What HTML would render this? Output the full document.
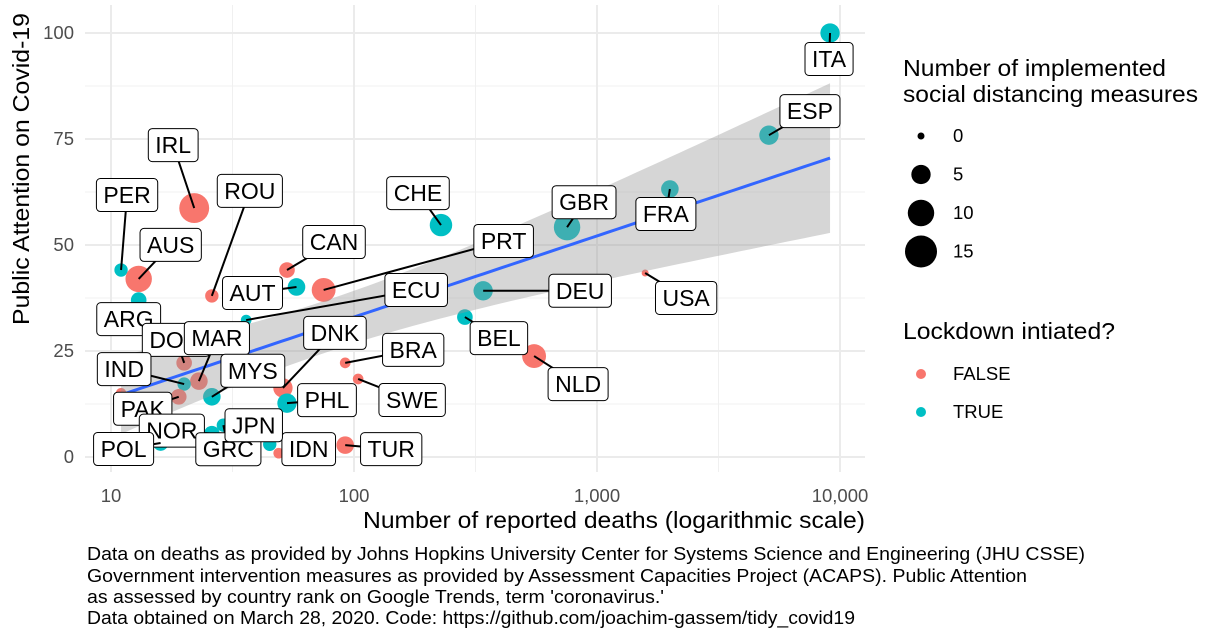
<!DOCTYPE html>
<html><head><meta charset="utf-8"><style>
body{margin:0;background:#fff;}
svg{display:block;font-family:"Liberation Sans",sans-serif;}
</style></head><body>
<svg id="chart" width="1222" height="640" xmlns="http://www.w3.org/2000/svg">
<g id="grid"></g>
<g id="points"></g>
<g id="smooth"></g>
<g id="labels"></g>
<g id="axes"></g>
<text transform="translate(29,169) rotate(-90)" text-anchor="middle" font-size="23" textLength="312" lengthAdjust="spacingAndGlyphs">Public Attention on Covid-19</text>
<text x="614" y="528" text-anchor="middle" font-size="23" textLength="502" lengthAdjust="spacingAndGlyphs">Number of reported deaths (logarithmic scale)</text>
<g font-size="18">
<text x="87" y="560" textLength="998" lengthAdjust="spacingAndGlyphs">Data on deaths as provided by Johns Hopkins University Center for Systems Science and Engineering (JHU CSSE)</text>
<text x="87" y="582" textLength="940" lengthAdjust="spacingAndGlyphs">Government intervention measures as provided by Assessment Capacities Project (ACAPS). Public Attention</text>
<text x="87" y="603" textLength="577" lengthAdjust="spacingAndGlyphs">as assessed by country rank on Google Trends, term 'coronavirus.'</text>
<text x="87" y="624" textLength="768" lengthAdjust="spacingAndGlyphs">Data obtained on March 28, 2020. Code: https://github.com/joachim-gassem/tidy_covid19</text>
</g>
<g id="legend">
<text x="903" y="76" font-size="23" textLength="263" lengthAdjust="spacingAndGlyphs">Number of implemented</text>
<text x="903" y="102" font-size="23" textLength="295" lengthAdjust="spacingAndGlyphs">social distancing measures</text>
<text x="903" y="339" font-size="23" textLength="212" lengthAdjust="spacingAndGlyphs">Lockdown intiated?</text>
</g>
</svg>
<script>
const countries=["ITA","ESP","FRA","GBR","USA","DEU","BEL","NLD","CHE","PRT","CAN","AUT","IRL","ROU","PER","AUS","ARG","ECU","DOM","MAR","IND","MYS","DNK","PHL","BRA","SWE","PAK","NOR","POL","GRC","IDN","JPN","TUR",""];
const deaths=[9100,5100,1995,753,1578,340,286,551,228,75,53,58,22,26,11,13,13,36,20,23,20,26,51,53,92,104,19,26,16,29,49,45,92,11];
const attention=[100,75.9,63.2,54.2,43.4,39.2,33.0,23.8,54.7,39.4,44.1,40.1,58.7,38.0,44.1,42.0,37.0,32.3,22.2,17.9,17.2,14.2,16.3,12.7,22.2,18.4,14.2,5.5,3.3,7.5,0.9,3,2.8,15];
const measures=[5,5,4,10,0,5,3,8,7,8,3,4,13,2,2,10,3,1,3,4,2,4,5,5,1,1,3,3,3,2,1,2,4,1];
const lockdown=[1,1,1,1,0,1,1,0,1,0,0,1,0,0,1,0,1,1,0,0,1,1,0,1,0,0,0,1,1,1,0,1,0,0];
const xTicks=[10,100,1000,10000];
const xTickLabels=["10","100","1,000","10,000"];
const yTicks=[0,25,50,75,100];
const sizeLegend=[0,5,10,15];
const lockLegend=["FALSE","TRUE"];
// label offsets relative to points (layout)
const lblOff=[[-1,26],[41,-24],[-4,25],[17,-25],[41,25],[97,0],[34,21],[44,28],[-23,-32],[180,-49],[47,-28],[-44,6],[-21,-63],[38,-105],[6,-75],[32,-34],[-10,19],[170,-30],[-8,-23],[18,-43],[-60,-15],[41,-26],[52,-55],[40,-3],[68,-13],[54,21],[-36,12],[-40,-3],[-37,6],[5,24],[30,-4],[-16,-19],[46,4],[0,0]];
const X0=111,PX=243,Y0=457,PY=4.24;
const xs=d=>X0+PX*(Math.log10(d)-1);
const ys=v=>Y0-PY*v;
const rad=n=>Math.sqrt(12.25+16.25*n);
const NS="http://www.w3.org/2000/svg";
function mk(t,a,p){const e=document.createElementNS(NS,t);for(const k in a)e.setAttribute(k,a[k]);p.appendChild(e);return e;}
const grid=document.getElementById('grid');
[0.5,1.5,2.5].forEach(l=>{const x=X0+PX*l;const e=mk('line',{x1:x,x2:x,y1:5,y2:472,stroke:'#f0f0f0','stroke-width':1},grid);});
[12.5,37.5,62.5,87.5].forEach(v=>{const e=mk('line',{x1:85,x2:865,y1:ys(v),y2:ys(v),stroke:'#f0f0f0','stroke-width':1},grid);});
const axes=document.getElementById('axes');
xTicks.forEach((t,i)=>{const x=xs(t);const e=mk('line',{x1:x,x2:x,y1:5,y2:472,stroke:'#ebebeb','stroke-width':2},grid);
const tx=mk('text',{x:x,y:502,'text-anchor':'middle','font-size':18.5,fill:'#4d4d4d'},axes);tx.textContent=xTickLabels[i];});
yTicks.forEach(t=>{const y=ys(t);const e=mk('line',{x1:85,x2:865,y1:y,y2:y,stroke:'#ebebeb','stroke-width':2},grid);
const tx=mk('text',{x:74,y:y+6,'text-anchor':'end','font-size':18.5,fill:'#4d4d4d'},axes);tx.textContent=t;});
const col=l=>l?'#00BFC4':'#F8766D';
const pts=document.getElementById('points');
countries.forEach((c,i)=>{const e=mk('circle',{cx:xs(deaths[i]),cy:ys(attention[i]),r:rad(measures[i]),fill:col(lockdown[i])},pts);

});
const L=deaths.map(d=>Math.log10(d));const n=L.length;
const mL=L.reduce((a,b)=>a+b)/n,mA=attention.reduce((a,b)=>a+b)/n;
let sxx=0,sxy=0;L.forEach((l,i)=>{sxx+=(l-mL)**2;sxy+=(l-mL)*(attention[i]-mA);});
const b=sxy/sxx,a=mA-b*mL;let sse=0;L.forEach((l,i)=>{sse+=(attention[i]-a-b*l)**2;});
const s=Math.sqrt(sse/(n-2));
const lo=Math.min(...L),hi=Math.max(...L);
const sm=document.getElementById('smooth');let up=[],dn=[],ln=[];
for(let k=0;k<=80;k++){const l=lo+(hi-lo)*k/80;const f=a+b*l;const se=2.04*s*Math.sqrt(1/n+(l-mL)**2/sxx);const x=xs(10**l);
up.push(x+','+ys(f+se));dn.unshift(x+','+ys(f-se));ln.push(x+','+ys(f));}
const band=mk('polygon',{points:up.concat(dn).join(' '),fill:'#999999','fill-opacity':0.4},sm);


const rl=mk('polyline',{points:ln.join(' '),fill:'none',stroke:'#3366FF','stroke-width':3},sm);


const lg=document.getElementById('labels');
countries.forEach((c,i)=>{if(!c)return;const px=xs(deaths[i]),py=ys(attention[i]);const cx=px+lblOff[i][0],cy=py+lblOff[i][1];
const g=mk('g',{},lg);
const t0=mk('text',{x:0,y:0,'font-size':23},g);t0.textContent=c;const tw=t0.getComputedTextLength();g.removeChild(t0);
const w=tw+14,h=33;
if(Math.abs(lblOff[i][0])>w/2+4||Math.abs(lblOff[i][1])>h/2+4){const sg=mk('line',{x1:px,y1:py,x2:cx,y2:cy,stroke:'#000','stroke-width':2},g);}


mk('rect',{x:cx-w/2,y:cy-h/2,width:w,height:h,rx:4,fill:'#fff',stroke:'#000','stroke-width':1},g);
const t=mk('text',{x:cx,y:cy+8,'text-anchor':'middle','font-size':23},g);t.textContent=c;});
const leg=document.getElementById('legend');
sizeLegend.forEach((v,i)=>{const y=136+i*38.5;const c=mk('circle',{cx:921,cy:y,r:rad(v),fill:'#000'},leg);
const t=mk('text',{x:953,y:y+6,'font-size':18.5},leg);t.textContent=v;});
lockLegend.forEach((v,i)=>{const y=374+i*38;const c=mk('circle',{cx:921,cy:y,r:5,fill:col(i)},leg);
const t=mk('text',{x:953,y:y+6,'font-size':18.5},leg);t.textContent=v;});
</script>
</body></html>
